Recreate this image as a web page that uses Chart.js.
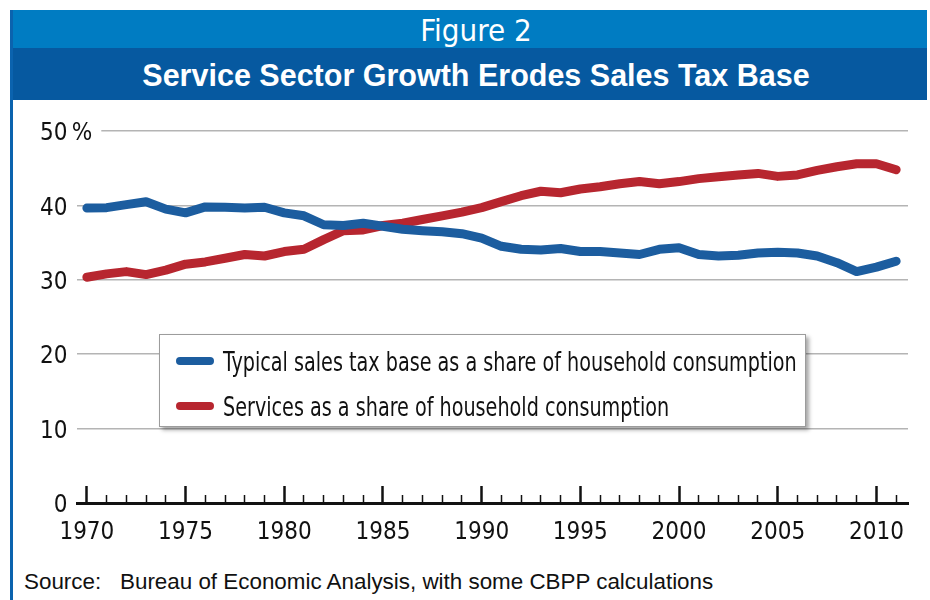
<!DOCTYPE html>
<html>
<head>
<meta charset="utf-8">
<script src="https://cdn.jsdelivr.net/npm/chart.js@4.4.1/dist/chart.umd.min.js"></script>
<style>
  html, body { margin: 0; padding: 0; background: #fff; }
  body { width: 930px; height: 600px; position: relative; overflow: hidden; font-family: 'Liberation Sans', Arial, sans-serif; }
  .rule { position: absolute; left: 10px; top: 10px; width: 3px; height: 590px; background: #0b63ae; }
  .fig { position: absolute; left: 10px; top: 10px; width: 917px; height: 38px; padding-left: 15px; box-sizing: border-box;
         background: #007cc2; color: #fff; text-align: center;
         font: 31px 'DejaVu Sans Condensed', 'Liberation Sans Narrow', sans-serif; line-height: 40px; }
  .ttl { position: absolute; left: 10px; top: 48px; width: 917px; height: 52px; padding-left: 15px; box-sizing: border-box;
         background: #0659a0; color: #fff; text-align: center;
         font: bold 30.5px 'Liberation Sans', Arial, sans-serif; line-height: 54px; }
  .plot { position: absolute; left: 14px; top: 102px; width: 916px; height: 458px; }
  .legend { position: absolute; left: 159px; top: 334px; width: 647px; height: 93px; box-sizing: border-box;
            border: 1px solid #9c9c9c; background: #fff; box-shadow: 3px 3px 4px rgba(0,0,0,.35); }
  .legend .item { position: absolute; left: 16px; height: 30px; display: flex; align-items: center; }
  .legend .sw { width: 38px; height: 8px; border-radius: 4px; margin-right: 9px; flex: none; }
  .legend .tx { font: 27px 'DejaVu Sans Condensed', 'Liberation Sans Narrow', sans-serif; color: #111; white-space: nowrap;
                display: inline-block; transform: scaleX(0.79); transform-origin: left center; }
  .src { position: absolute; top: 569px; font: 22.4px 'Liberation Sans', Arial, sans-serif; color: #111; white-space: nowrap; }
</style>
</head>
<body>
<div class="fig">Figure 2</div>
<div class="ttl">Service Sector Growth Erodes Sales Tax Base</div>
<div class="rule"></div>
<canvas class="plot" id="chart" width="916" height="458"></canvas>
<div class="legend" id="legend"></div>
<div class="src" style="left:24px">Source:</div>
<div class="src" style="left:120px">Bureau of Economic Analysis, with some CBPP calculations</div>
<script>
const YEARS = [
  1970, 1971, 1972, 1973, 1974, 1975, 1976, 1977, 1978, 1979,
  1980, 1981, 1982, 1983, 1984, 1985, 1986, 1987, 1988, 1989,
  1990, 1991, 1992, 1993, 1994, 1995, 1996, 1997, 1998, 1999,
  2000, 2001, 2002, 2003, 2004, 2005, 2006, 2007, 2008, 2009,
  2010, 2011,
];

// typical sales tax base, % of household consumption
const TAX_BASE = [
  39.65, 39.7, 40.1, 40.5, 39.5, 39.0, 39.8, 39.75, 39.65, 39.75,
  39.0, 38.6, 37.4, 37.3, 37.6, 37.2, 36.8, 36.6, 36.45, 36.2,
  35.6, 34.5, 34.1, 34.0, 34.2, 33.8, 33.8, 33.6, 33.4, 34.1,
  34.3, 33.4, 33.2, 33.3, 33.6, 33.7, 33.6, 33.2, 32.3, 31.1,
  31.7, 32.5,
];

// services, % of household consumption
const SERVICES = [
  30.35, 30.8, 31.1, 30.7, 31.3, 32.1, 32.4, 32.9, 33.4, 33.2,
  33.8, 34.1, 35.4, 36.6, 36.7, 37.3, 37.6, 38.1, 38.6, 39.1,
  39.7, 40.5, 41.3, 41.9, 41.7, 42.2, 42.5, 42.9, 43.2, 42.9,
  43.2, 43.6, 43.85, 44.1, 44.3, 43.9, 44.1, 44.7, 45.2, 45.6,
  45.6, 44.8,
];

const SERIES_LABELS = [
  'Typical sales tax base as a share of household consumption',
  'Services as a share of household consumption',
];
const SERIES_COLORS = ['#1c5d9f', '#b7262f'];
const SERIES_DATA = [TAX_BASE, SERVICES];

const Y_MAX = 50;
const Y_STEP = 10;
const TICK_FONT = { family: "'DejaVu Sans Condensed', 'Liberation Sans Narrow', sans-serif", size: 24 };

const isMajor = (ctx) => ctx.tick && ctx.tick.value % 5 === 0;

// y labels sit flush with the two-digit ones; the lone 0 gets a figure space
function yLabel(v) {
  if (v === Y_MAX) return v + '\u2009%';
  return v < 10 ? '\u2007' + v : String(v);
}

new Chart(document.getElementById('chart').getContext('2d'), {
  type: 'line',
  data: {
    labels: YEARS,
    datasets: SERIES_DATA.map((values, i) => ({
      label: SERIES_LABELS[i],
      data: values,
      borderColor: SERIES_COLORS[i],
      backgroundColor: SERIES_COLORS[i],
    })),
  },
  options: {
    responsive: false,
    animation: false,
    layout: { padding: { top: 29, right: 22, left: 26, bottom: 0 } },
    plugins: { legend: { display: false }, tooltip: { enabled: false } },
    elements: {
      point: { radius: 0 },
      line: { borderWidth: 9, borderCapStyle: 'round', borderJoinStyle: 'round', tension: 0 },
    },
    scales: {
      x: {
        type: 'linear',
        min: 1969.5,
        max: 2011.6,
        afterFit: (scale) => { scale.height = 57; },
        border: { display: true, color: '#111', width: 3 },
        grid: {
          drawOnChartArea: false,
          drawTicks: true,
          tickLength: -17,
          tickColor: '#111',
          tickWidth: (ctx) => (isMajor(ctx) ? 2.5 : 1.5),
          tickBorderDash: (ctx) => (isMajor(ctx) ? [] : [10, 40]),
        },
        ticks: {
          stepSize: 1,
          autoSkip: false,
          maxRotation: 0,
          includeBounds: false,
          padding: 32,
          color: '#111',
          font: TICK_FONT,
          callback: (v) => (v % 5 === 0 ? String(v) : ''),
        },
      },
      y: {
        min: 0,
        max: Y_MAX,
        afterFit: (scale) => { scale.width = 37; },
        border: { display: false },
        grid: {
          drawTicks: false,
          lineWidth: 1.5,
          color: (ctx) => (ctx.tick && ctx.tick.value === 0 ? 'rgba(0,0,0,0)' : '#b4b4b4'),
        },
        ticks: {
          stepSize: Y_STEP,
          mirror: true,
          crossAlign: 'near',
          padding: -37,
          labelOffset: 3,
          color: '#111',
          font: TICK_FONT,
          callback: yLabel,
          showLabelBackdrop: (ctx) => ctx.tick && ctx.tick.value === Y_MAX,
          backdropColor: '#fff',
          backdropPadding: { left: 0, top: 0, bottom: 0, right: 9 },
        },
      },
    },
  },
});

document.getElementById('legend').innerHTML = SERIES_LABELS.map((label, i) => `
  <div class="item" style="top:${11 + i * 45}px">
    <span class="sw" style="background:${SERIES_COLORS[i]}"></span><span class="tx">${label}</span>
  </div>`).join('');
</script>
</body>
</html>
